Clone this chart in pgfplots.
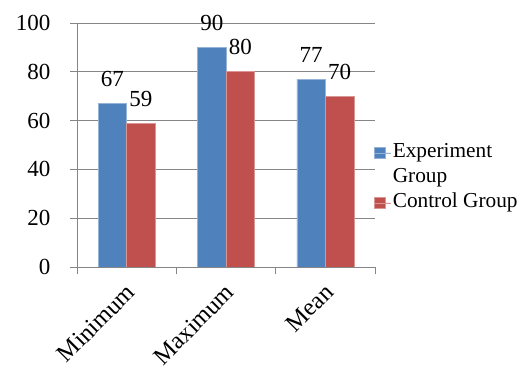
\documentclass[border=0pt]{standalone}
\usepackage{pgfplots}
\pgfplotsset{compat=1.18}
\usetikzlibrary{calc}
\usepackage{fontspec}
\setmainfont{Liberation Serif}
\definecolor{exblue}{HTML}{4F81BD}
\definecolor{exred}{HTML}{C0504D}
\definecolor{gridgray}{HTML}{868686}
\newcommand{\f}{\fontsize{23}{25}\selectfont}
\newcommand{\fx}{\fontsize{24.5}{26}\selectfont}
\newcommand{\fl}{\fontsize{21.3}{23}\selectfont}
\begin{document}
\begin{tikzpicture}
\begin{axis}[name=ax,
  scale only axis, width=298pt, height=244pt,
  ymin=0, ymax=100, ytick={0,20,...,100},
  xmin=-0.5, xmax=2.5,
  xtick={-0.5,0.5,1.5,2.5}, xticklabels={},
  extra x ticks={0,1,2}, extra x tick labels={Minimum,Maximum,Mean},
  extra x tick style={grid=none, major tick length=0pt,
    tick label style={font=\fx, xshift=-2pt, yshift=-12.5pt, rotate=45, anchor=north east, inner sep=2pt}},
  y tick label style={font=\f, xshift=-16pt},
  axis x line*=bottom, axis y line*=left,
  axis line style={gridgray, line width=0.8pt, -},
  ymajorgrids, grid style={gridgray, line width=0.8pt},
  tick align=outside, major tick length=7pt,
  tick style={gridgray, line width=0.8pt},
  /pgf/number format/assume math mode=true,
  ybar=0pt, bar width=28.5pt,
  nodes near coords,
  every node near coord/.append style={font=\f, text=black, yshift=13pt},
  legend style={draw=none, fill=none, at={(1,0.365)}, anchor=west, xshift=-1pt,
    font=\fl, cells={anchor=west}, inner sep=0pt, row sep=1pt,
    nodes={text height=15pt, text depth=5pt}},
  legend image code/.code={\fill[#1] (0pt,-5.5pt) rectangle (11pt,5.5pt); \path (0pt,0pt) -- (16pt,0pt);},
]
\addplot[fill=exblue, draw=exblue!60!white, line width=0.6pt] coordinates {(0,67) (1,90) (2,77)};
\addlegendentry{Experiment}
\addlegendimage{empty legend}
\addlegendentry{Group}
\addplot[fill=exred, draw=exred!60!white, line width=0.6pt] coordinates {(0,59) (1,80) (2,70)};
\addlegendentry{Control Group}
\end{axis}
\pgfresetboundingbox
\path ($(ax.south west)+(-77pt,-102pt)$) rectangle ($(ax.north east)+(145pt,23pt)$);
\end{tikzpicture}
\end{document}
